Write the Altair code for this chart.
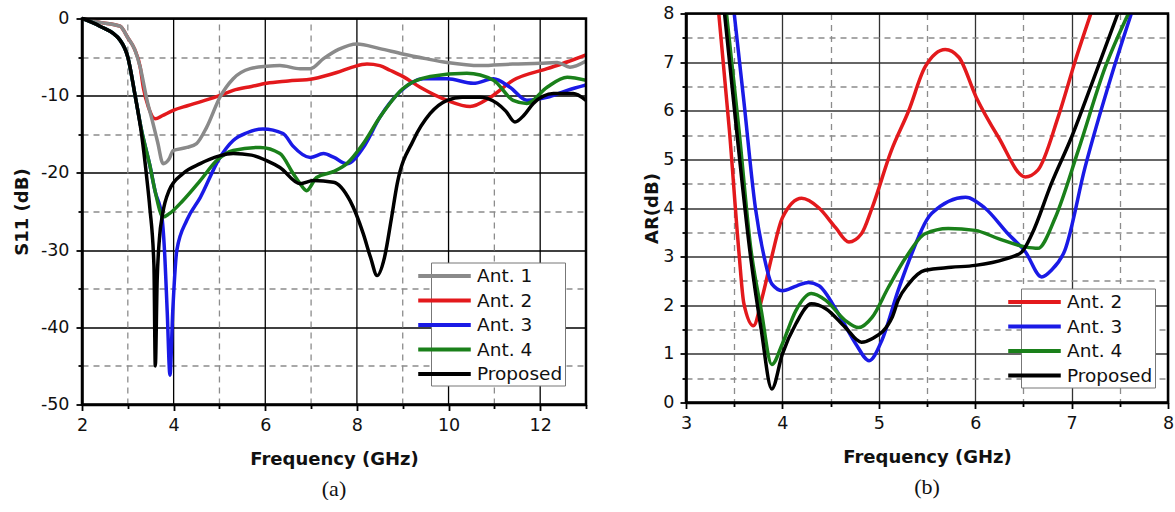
import altair as alt
import pandas as pd

# ---------------- Panel (a): S11 (dB) ----------------
a1_f = [2.0, 2.39, 2.83, 3.0, 3.15, 3.27, 3.42, 3.55, 3.65, 3.77, 3.9, 3.99, 4.29, 4.5, 4.72, 5.01, 5.3, 5.67,
        6.03, 6.32, 6.76, 6.98, 7.27, 7.6, 8.0, 8.5, 9.0, 9.5, 9.97, 10.69, 11.4, 12.0, 12.37, 12.65, 13.0]
a1_s = [0, -0.5, -1.0, -2.5, -4.0, -6.3, -10.6, -13.6, -16.0, -18.8, -18.2, -17.1, -16.7, -16.2, -14.1, -10.2,
        -7.8, -6.5, -6.2, -6.1, -6.5, -6.5, -5.2, -4.0, -3.3, -3.9, -4.6, -5.2, -5.7, -6.1, -5.9, -5.8, -5.7,
        -6.3, -5.5]

a2_f = [2.0, 2.39, 2.83, 3.0, 3.15, 3.27, 3.34, 3.45, 3.6, 3.75, 3.99, 4.3, 4.58, 5.0, 5.3, 5.7, 6.03, 6.5, 7.05,
        7.56, 7.9, 8.22, 8.5, 8.72, 9.0, 9.38, 9.97, 10.47, 10.91, 11.41, 12.15, 12.6, 13.0]
a2_s = [0, -0.5, -1.0, -2.5, -4.0, -6.3, -9.0, -11.5, -13.0, -12.6, -11.9, -11.3, -10.8, -10.0, -9.3, -8.8, -8.4,
        -8.1, -7.8, -7.0, -6.3, -5.9, -6.1, -6.7, -7.5, -8.9, -10.6, -11.4, -10.2, -8.0, -6.5, -5.6, -4.7]

a3_f = [2.0, 2.39, 2.83, 3.0, 3.16, 3.3, 3.48, 3.6, 3.74, 3.8, 3.86, 3.92, 3.98, 4.07, 4.29, 4.58, 5.01, 5.3,
        5.6, 5.95, 6.39, 6.6, 6.98, 7.27, 7.5, 7.78, 8.14, 8.5, 8.94, 9.45, 9.97, 10.54, 10.98, 11.34, 11.71,
        12.15, 12.59, 13.0]
a3_s = [0, -1.0, -2.8, -5.0, -10.0, -14.5, -19.0, -22.5, -25.5, -30.0, -38.0, -46.2, -38.0, -30.0, -26.1,
        -23.2, -18.0, -15.8, -14.8, -14.3, -14.9, -16.5, -18.0, -17.5, -18.0, -18.8, -16.7, -12.8, -9.5, -7.8,
        -7.8, -8.4, -7.8, -8.9, -10.6, -10.2, -9.3, -8.6]

a4_f = [2.0, 2.39, 2.83, 3.0, 3.16, 3.3, 3.48, 3.6, 3.77, 3.9, 4.2, 4.58, 4.94, 5.3, 5.89, 6.32, 6.61, 6.76, 6.9,
        7.12, 7.5, 7.78, 8.14, 8.5, 9.0, 9.6, 10.4, 10.98, 11.41, 11.71, 12.15, 12.59, 13.0]
a4_s = [0, -1.0, -2.8, -5.0, -10.0, -14.5, -19.0, -22.5, -25.7, -25.3, -23.6, -21.0, -18.4, -17.1, -16.7, -17.5,
        -20.1, -21.4, -22.3, -20.6, -19.8, -18.8, -16.2, -12.8, -9.1, -7.5, -7.1, -8.0, -10.6, -11.0, -8.9, -7.6,
        -8.0]

ap_f = [2.0, 2.39, 2.83, 3.0, 3.16, 3.3, 3.42, 3.48, 3.57, 3.6, 3.64, 3.69, 3.76, 3.9, 4.2, 4.58, 5.0, 5.3, 5.7,
        6.03, 6.32, 6.76, 7.05, 7.49, 7.85, 8.14, 8.3, 8.44, 8.6, 8.75, 8.88, 9.23, 9.6, 9.97, 10.3, 10.69, 11.06,
        11.25, 11.45, 11.65, 11.85, 12.29, 12.72, 13.0]
ap_s = [0, -1.0, -2.8, -5.0, -10.0, -15.0, -21.0, -24.5, -32.0, -45.0, -34.0, -28.5, -25.3, -22.3, -20.1,
        -18.8, -17.8, -17.5, -17.7, -18.4, -19.3, -21.4, -21.0, -21.2, -23.6, -27.9, -31.0, -33.3, -31.0, -26.0,
        -21.4, -15.8, -12.3, -10.6, -10.2, -10.2, -11.0, -12.0, -13.4, -12.5, -11.0, -9.7, -9.7, -10.6]

# ---------------- Panel (b): AR (dB) ----------------
b2_f = [3.34, 3.45, 3.55, 3.6, 3.7, 3.79, 3.89, 4.0, 4.2, 4.38, 4.55, 4.69, 4.82, 4.93, 5.13, 5.31, 5.48, 5.69,
        5.83, 6.01, 6.24, 6.52, 6.65, 6.86, 7.04, 7.2]
b2_a = [8.0, 5.6, 3.07, 2.04, 1.58, 2.16, 3.0, 3.8, 4.2, 4.0, 3.6, 3.3, 3.47, 4.0, 5.18, 6.0, 6.9, 7.26, 7.1,
        6.28, 5.46, 4.64, 4.78, 5.87, 7.04, 8.0]

b3_f = [3.5, 3.6, 3.72, 3.81, 3.89, 4.0, 4.15, 4.27, 4.38, 4.58, 4.76, 4.9, 5.03, 5.2, 5.31, 5.55, 5.9, 6.1, 6.34,
        6.52, 6.69, 6.79, 6.93, 7.14, 7.41, 7.62]
b3_a = [8.0, 6.2, 4.0, 3.0, 2.44, 2.3, 2.4, 2.47, 2.4, 1.83, 1.21, 0.86, 1.27, 2.3, 2.9, 3.89, 4.22, 4.0, 3.47,
        3.1, 2.58, 2.72, 3.13, 4.84, 6.7, 8.0]

b4_f = [3.42, 3.55, 3.67, 3.78, 3.89, 4.0, 4.14, 4.3, 4.45, 4.65, 4.79, 4.93, 5.1, 5.28, 5.48, 5.72, 6.0, 6.24,
        6.52, 6.65, 6.83, 7.07, 7.35, 7.59]
b4_a = [8.0, 5.6, 3.2, 1.9, 0.78, 1.21, 1.89, 2.24, 2.1, 1.69, 1.54, 1.75, 2.37, 2.98, 3.47, 3.58, 3.54, 3.37,
        3.2, 3.17, 3.8, 5.19, 6.9, 8.0]

bp_f = [3.4, 3.53, 3.67, 3.78, 3.89, 4.0, 4.14, 4.3, 4.45, 4.65, 4.82, 4.93, 5.14, 5.2, 5.31, 5.48, 5.75, 6.0,
        6.31, 6.48, 6.59, 6.79, 7.0, 7.21, 7.48]
bp_a = [8.0, 5.5, 3.0, 1.5, 0.28, 1.0, 1.62, 2.03, 1.93, 1.55, 1.24, 1.31, 1.76, 2.1, 2.44, 2.72, 2.78, 2.82,
        2.95, 3.09, 3.47, 4.5, 5.46, 6.56, 8.0]

names_a = ["Ant. 1", "Ant. 2", "Ant. 3", "Ant. 4", "Proposed"]
colors_a = ["#8a8a8a", "#e3191c", "#1a1ae6", "#1a801a", "#000000"]
names_b = ["Ant. 2", "Ant. 3", "Ant. 4", "Proposed"]
colors_b = ["#e3191c", "#1a1ae6", "#1a801a", "#000000"]

x_ticks_a = list(range(2, 14))
y_ticks_a = list(range(-50, 1, 5))
x_ticks_b = [3 + 0.5 * i for i in range(11)]
y_ticks_b = [0.5 * i for i in range(17)]


def frame(fs, vs, name):
    return pd.DataFrame({"f": fs, "v": vs, "s": name})


# drawing order: red under grey, black on top
df_a = pd.concat([frame(a2_f, a2_s, names_a[1]), frame(a1_f, a1_s, names_a[0]),
                  frame(a3_f, a3_s, names_a[2]), frame(a4_f, a4_s, names_a[3]),
                  frame(ap_f, ap_s, names_a[4])])
df_b = pd.concat([frame(b2_f, b2_a, names_b[0]), frame(b3_f, b3_a, names_b[1]),
                  frame(b4_f, b4_a, names_b[2]), frame(bp_f, bp_a, names_b[3])])

FONT = "DejaVu Sans"
MINOR_GRID = "#8c8c8c"
DASH = [6, 5]


def make_axis(values, minor_test, label_expr, title, grid_major, title_pad, label_pad, grid=True, **kw):
    opts = dict(
        values=values, title=title, labelExpr=label_expr,
        labelFont=FONT, labelFontSize=17.5, labelColor="#111", labelPadding=label_pad,
        titleFont=FONT, titleFontSize=18, titleFontWeight="bold", titleColor="#111", titlePadding=title_pad,
        domainColor="black", domainWidth=2.5,
        tickColor="black", tickWidth=1.8,
        tickSize={"condition": {"test": minor_test, "value": 4}, "value": 6},
        labelOverlap=False, labelFlush=False, grid=grid)
    if grid:
        opts.update(
            gridWidth=1.3,
            gridColor={"condition": {"test": minor_test, "value": MINOR_GRID}, "value": grid_major},
            gridDash={"condition": {"test": minor_test, "value": DASH}, "value": []})
    opts.update(kw)
    return alt.Axis(**opts)


def legend(lx, ly):
    return alt.Legend(title=None, orient="none", legendX=lx, legendY=ly,
                      symbolType="M-2.85,0H2.85", symbolSize=340, symbolStrokeWidth=4,
                      labelFont=FONT, labelFontSize=18.5, labelColor="#111", labelOffset=21,
                      fillColor="white", strokeColor="#777", padding=2, rowPadding=3.5,
                      labelLimit=200)


one = pd.DataFrame({"k": [0]})

# ----- left panel -----
LEFT_H = 391  # plot area starts 5 px above the 0 dB line
sc_xa = alt.Scale(domain=[2, 13], nice=False)
sc_ya = alt.Scale(domain=[-50, 0], nice=False, range=[LEFT_H, 5])
ax_xa = make_axis(x_ticks_a, "datum.value % 2 == 1",
                  "datum.value % 2 == 0 && datum.value < 13 ? toString(datum.value) : ''",
                  "Frequency (GHz)", "black", 16.5, 6, grid=False)
ax_ya = make_axis(y_ticks_a, "datum.value % 10 != 0",
                  "datum.value % 10 == 0 ? toString(datum.value) : ''",
                  "S11 (dB)", "black", 9, 7)

vmin_a = pd.DataFrame({"v": [t for t in x_ticks_a if t % 2 == 1 and 2 < t < 13]})
vmaj_a = pd.DataFrame({"v": [t for t in x_ticks_a if t % 2 == 0 and 2 < t < 13]})

grid_minor_a = alt.Chart(vmin_a).mark_rule(color=MINOR_GRID, strokeWidth=1.3, strokeDash=DASH).encode(
    x=alt.X("v:Q", scale=sc_xa, axis=ax_xa),
    y=alt.YDatum(-50, scale=sc_ya, axis=ax_ya), y2=alt.Y2Datum(0))
grid_major_a = alt.Chart(vmaj_a).mark_rule(color="black", strokeWidth=1.3).encode(
    x=alt.X("v:Q", scale=sc_xa, axis=ax_xa),
    y=alt.YDatum(-50, scale=sc_ya, axis=ax_ya), y2=alt.Y2Datum(0))

lines_a = alt.Chart(df_a).mark_line(strokeWidth=3.5, interpolate="monotone", clip=True).encode(
    x=alt.X("f:Q", scale=sc_xa, axis=ax_xa),
    y=alt.Y("v:Q", scale=sc_ya, axis=ax_ya),
    color=alt.Color("s:N", scale=alt.Scale(domain=names_a, range=colors_a), sort=names_a,
                    legend=legend(349, 249)),
    detail="s:N",
)

frame_a = alt.Chart(one).mark_rect(fillOpacity=0, stroke="black", strokeWidth=2.5).encode(
    x=alt.XDatum(2, scale=sc_xa, axis=ax_xa), x2=alt.X2Datum(13),
    y=alt.YDatum(-50, scale=sc_ya, axis=ax_ya), y2=alt.Y2Datum(0))

left = alt.layer(grid_minor_a, grid_major_a, lines_a, frame_a).properties(
    width=504, height=LEFT_H,
    title=alt.TitleParams("(a)", orient="bottom", font="Liberation Serif", fontSize=22,
                          fontWeight="normal", color="#111", offset=10, anchor="middle"))

# ----- right panel -----
sc_xb = alt.Scale(domain=[3, 8], nice=False)
sc_yb = alt.Scale(domain=[0, 8], nice=False)
ax_xb = make_axis(x_ticks_b, "datum.value % 1 != 0",
                  "datum.value % 1 == 0 ? toString(datum.value) : ''",
                  "Frequency (GHz)", "#333", 16.5, 6)
ax_yb = make_axis(y_ticks_b, "datum.value % 1 != 0",
                  "datum.value % 1 == 0 ? toString(datum.value) : ''",
                  "AR(dB)", "#333", 1, 6)

lines_b = alt.Chart(df_b).mark_line(strokeWidth=3.5, interpolate="monotone", clip=True).encode(
    x=alt.X("f:Q", scale=sc_xb, axis=ax_xb),
    y=alt.Y("v:Q", scale=sc_yb, axis=ax_yb),
    color=alt.Color("s:N", scale=alt.Scale(domain=names_b, range=colors_b), sort=names_b,
                    legend=legend(335, 275)),
    detail="s:N",
)

frame_b = alt.Chart(one).mark_rect(fillOpacity=0, stroke="black", strokeWidth=2.5).encode(
    x=alt.XDatum(3, scale=sc_xb, axis=ax_xb), x2=alt.X2Datum(8),
    y=alt.YDatum(0, scale=sc_yb, axis=ax_yb), y2=alt.Y2Datum(8))

right = alt.layer(lines_b, frame_b).properties(
    width=482, height=389,
    title=alt.TitleParams("(b)", orient="bottom", font="Liberation Serif", fontSize=22,
                          fontWeight="normal", color="#111", offset=10, anchor="middle"))

chart = alt.hconcat(left, right, spacing=55).resolve_scale(color="independent").configure_view(
    strokeWidth=0).properties(
    padding={"left": 13, "top": 4.5, "right": 0, "bottom": 0}, background="white")

chart.save("out.html", embed_options={"renderer": "svg", "actions": False})
